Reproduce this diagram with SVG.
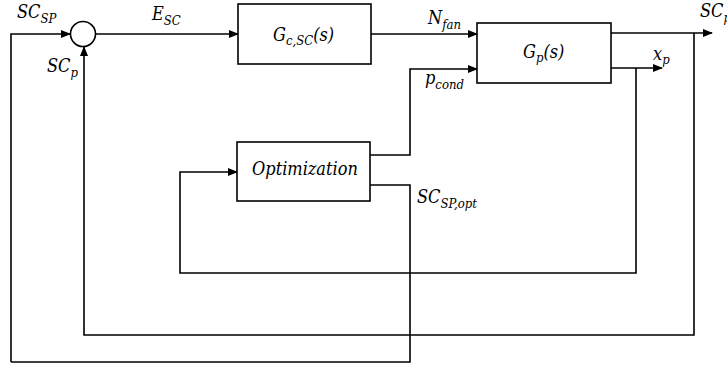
<svg xmlns="http://www.w3.org/2000/svg" width="727" height="366" viewBox="0 0 727 366">
<defs>
<marker id="ah" markerWidth="10" markerHeight="8" refX="9" refY="4" orient="auto" markerUnits="userSpaceOnUse">
<path d="M0,0 L10,4 L0,8 Z" fill="#000"/>
</marker>
<style>
.blk{fill:#fff;stroke:#000;stroke-width:1.6}
.ln{fill:none;stroke:#000;stroke-width:1.6}
.t{font-family:'DejaVu Serif','Liberation Serif',serif;font-style:italic;font-size:18px;fill:#000}
.s{font-size:13px}
</style>
</defs>
<rect width="727" height="366" fill="#fff"/>
<g id="connectors">
<path class="ln" d="M11,362 L11,34 L70,34" marker-end="url(#ah)"/>
<path class="ln" d="M96,34 L238,34" marker-end="url(#ah)"/>
<path class="ln" d="M371,34 L477,34" marker-end="url(#ah)"/>
<path class="ln" d="M370,155 L410,155 L410,69 L477,69" marker-end="url(#ah)"/>
<path class="ln" d="M611,33 L712,33" marker-end="url(#ah)"/>
<path class="ln" d="M611,68 L662,68" marker-end="url(#ah)"/>
<path class="ln" d="M694,33 L694,335 L84,335 L84,47" marker-end="url(#ah)"/>
<path class="ln" d="M636,68 L636,273 L180,273 L180,172 L237,172" marker-end="url(#ah)"/>
<path class="ln" d="M370,185 L410,185 L410,362 L11,362"/>
</g>
<g id="sum">
<circle class="blk" cx="83" cy="34" r="12.5"/>
</g>
<g id="controller">
<rect class="blk" x="238" y="4" width="133" height="60"/>
<text class="t" transform="translate(273,41) scale(0.9,1)">G<tspan class="s" dy="4">c,SC</tspan><tspan dy="-4">(s)</tspan></text>
</g>
<g id="plant">
<rect class="blk" x="477" y="23" width="134" height="60"/>
<text class="t" transform="translate(523,58) scale(0.9,1)">G<tspan class="s" dy="4">p</tspan><tspan dy="-4">(s)</tspan></text>
</g>
<g id="optimization">
<rect class="blk" x="237" y="142" width="133" height="59"/>
<text class="t" transform="translate(252,175) scale(0.9,1)">Optimization</text>
</g>
<g id="labels">
<text class="t" transform="translate(17,18) scale(0.9,1)">SC<tspan class="s" dy="5">SP</tspan></text>
<text class="t" transform="translate(152,20) scale(0.9,1)">E<tspan class="s" dy="5">SC</tspan></text>
<text class="t" transform="translate(47,72) scale(0.9,1)">SC<tspan class="s" dy="5">p</tspan></text>
<text class="t" transform="translate(428,24) scale(0.9,1)">N<tspan class="s" dy="5">fan</tspan></text>
<text class="t" transform="translate(425,84) scale(0.9,1)">p<tspan class="s" dy="5">cond</tspan></text>
<text class="t" transform="translate(653,60) scale(0.9,1)">x<tspan class="s" dy="4">p</tspan></text>
<text class="t" transform="translate(700,17) scale(0.9,1)">SC<tspan class="s" dy="5">p</tspan></text>
<text class="t" transform="translate(417,203) scale(0.9,1)">SC<tspan class="s" dy="5">SP,opt</tspan></text>
</g>
</svg>
